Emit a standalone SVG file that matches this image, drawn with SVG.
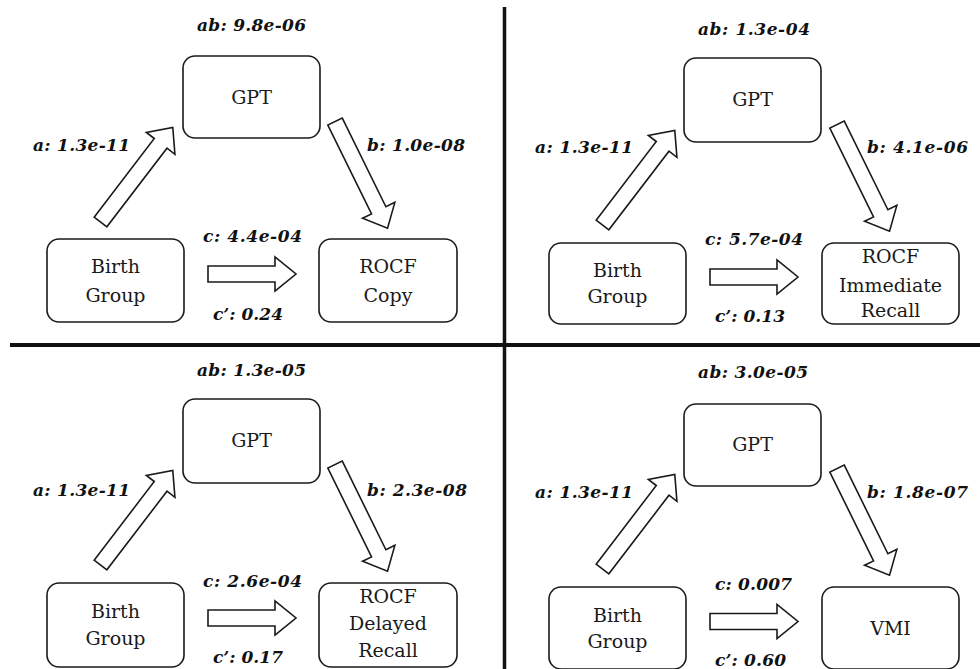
<svg xmlns="http://www.w3.org/2000/svg" xmlns:xlink="http://www.w3.org/1999/xlink" width="980" height="669" viewBox="0 0 980 669">
<style>
.box{fill:#fff;stroke:#1a1a1a;stroke-width:1.6}
.arr{fill:#fff;stroke:#1a1a1a;stroke-width:1.6;stroke-linejoin:miter}
.nt{font-family:"DejaVu Serif","Liberation Serif",serif;font-size:19px;fill:#1a1a1a;text-anchor:middle}
.lb{font-family:"DejaVu Serif","Liberation Serif",serif;font-size:17px;font-weight:bold;font-style:italic;fill:#111}
.lbm{text-anchor:middle}
.div{stroke:#111;fill:none}
</style>
<defs>
<polygon id="arrowD" class="arr" points="0,-8 99,-8 99,-18 119,0 99,18 99,8 0,8"/>
<polygon id="arrowH" class="arr" points="0,-8 67,-8 67,-17 88,0 67,17 67,8 0,8"/>
</defs>
<rect width="980" height="669" fill="#fff"/>
<g id="dividers">
<line class="div" x1="504.5" y1="7" x2="504.5" y2="669" stroke-width="3.5"/>
<line class="div" x1="10" y1="345" x2="980" y2="345" stroke-width="4"/>
</g>

<!-- Panel 1: ROCF Copy -->
<g id="panel-copy">
<g id="connectors-copy">
<use xlink:href="#arrowD" transform="translate(100.5,222) rotate(-52.6)"/>
<use xlink:href="#arrowD" transform="translate(335,121.5) rotate(63.8)"/>
<use xlink:href="#arrowH" transform="translate(208,274)"/>
</g>
<g id="gpt-copy"><rect class="box" x="183" y="56" width="137" height="82" rx="12"/><text class="nt" x="251.5" y="104">GPT</text></g>
<g id="birth-copy"><rect class="box" x="47" y="239" width="137" height="83" rx="12"/><text class="nt" x="115.5" y="273">Birth</text><text class="nt" x="115.5" y="302">Group</text></g>
<g id="rocf-copy"><rect class="box" x="319" y="239" width="138" height="83" rx="12"/><text class="nt" x="388" y="273">ROCF</text><text class="nt" x="388" y="302">Copy</text></g>
<g id="labels-copy">
<text class="lb lbm" x="251.5" y="31" textLength="109">ab: 9.8e-06</text>
<text class="lb" x="33" y="151" textLength="97">a: 1.3e-11</text>
<text class="lb" x="367" y="151" textLength="98">b: 1.0e-08</text>
<text class="lb" x="203" y="242" textLength="99">c: 4.4e-04</text>
<text class="lb" x="213" y="320" textLength="70">c’: 0.24</text>
</g>
</g>

<!-- Panel 2: ROCF Immediate Recall -->
<g id="panel-immediate">
<g id="connectors-immediate">
<use xlink:href="#arrowD" transform="translate(602.5,225) rotate(-52.6)"/>
<use xlink:href="#arrowD" transform="translate(837,124.5) rotate(63.8)"/>
<use xlink:href="#arrowH" transform="translate(710,277)"/>
</g>
<g id="gpt-immediate"><rect class="box" x="684" y="58" width="137" height="84" rx="12"/><text class="nt" x="752.5" y="106">GPT</text></g>
<g id="birth-immediate"><rect class="box" x="549" y="243" width="137" height="81" rx="12"/><text class="nt" x="617.5" y="277">Birth</text><text class="nt" x="617.5" y="303">Group</text></g>
<g id="rocf-immediate"><rect class="box" x="822" y="243" width="137" height="81" rx="12"/><text class="nt" x="890.5" y="263">ROCF</text><text class="nt" x="890.5" y="292">Immediate</text><text class="nt" x="890.5" y="317">Recall</text></g>
<g id="labels-immediate">
<text class="lb lbm" x="754" y="35" textLength="112">ab: 1.3e-04</text>
<text class="lb" x="535" y="153" textLength="98">a: 1.3e-11</text>
<text class="lb" x="867" y="153" textLength="101">b: 4.1e-06</text>
<text class="lb" x="705" y="245" textLength="98">c: 5.7e-04</text>
<text class="lb" x="715" y="322" textLength="70">c’: 0.13</text>
</g>
</g>

<!-- Panel 3: ROCF Delayed Recall -->
<g id="panel-delayed">
<g id="connectors-delayed">
<use xlink:href="#arrowD" transform="translate(100.5,565) rotate(-52.6)"/>
<use xlink:href="#arrowD" transform="translate(335,464.5) rotate(63.8)"/>
<use xlink:href="#arrowH" transform="translate(208,618)"/>
</g>
<g id="gpt-delayed"><rect class="box" x="183" y="399" width="137" height="84" rx="12"/><text class="nt" x="251.5" y="447">GPT</text></g>
<g id="birth-delayed"><rect class="box" x="47" y="583" width="137" height="84" rx="12"/><text class="nt" x="115.5" y="618">Birth</text><text class="nt" x="115.5" y="645">Group</text></g>
<g id="rocf-delayed"><rect class="box" x="319" y="583" width="138" height="84" rx="12"/><text class="nt" x="388" y="603">ROCF</text><text class="nt" x="388" y="630">Delayed</text><text class="nt" x="388" y="657">Recall</text></g>
<g id="labels-delayed">
<text class="lb lbm" x="251.5" y="376" textLength="109">ab: 1.3e-05</text>
<text class="lb" x="33" y="496" textLength="97">a: 1.3e-11</text>
<text class="lb" x="367" y="496" textLength="100">b: 2.3e-08</text>
<text class="lb" x="203" y="587" textLength="99">c: 2.6e-04</text>
<text class="lb" x="213" y="663" textLength="70">c’: 0.17</text>
</g>
</g>

<!-- Panel 4: VMI -->
<g id="panel-vmi">
<g id="connectors-vmi">
<use xlink:href="#arrowD" transform="translate(602.5,569) rotate(-52.6)"/>
<use xlink:href="#arrowD" transform="translate(837,468.5) rotate(63.8)"/>
<use xlink:href="#arrowH" transform="translate(710,621.5)"/>
</g>
<g id="gpt-vmi"><rect class="box" x="684" y="404" width="137" height="82" rx="12"/><text class="nt" x="752.5" y="451">GPT</text></g>
<g id="birth-vmi"><rect class="box" x="549" y="587" width="137" height="82" rx="12"/><text class="nt" x="617.5" y="622">Birth</text><text class="nt" x="617.5" y="648">Group</text></g>
<g id="vmi"><rect class="box" x="822" y="587" width="137" height="82" rx="12"/><text class="nt" x="890.5" y="635">VMI</text></g>
<g id="labels-vmi">
<text class="lb lbm" x="753" y="378" textLength="110">ab: 3.0e-05</text>
<text class="lb" x="535" y="498" textLength="98">a: 1.3e-11</text>
<text class="lb" x="867" y="498" textLength="101">b: 1.8e-07</text>
<text class="lb" x="715" y="590" textLength="77">c: 0.007</text>
<text class="lb" x="715" y="666" textLength="71">c’: 0.60</text>
</g>
</g>
</svg>
